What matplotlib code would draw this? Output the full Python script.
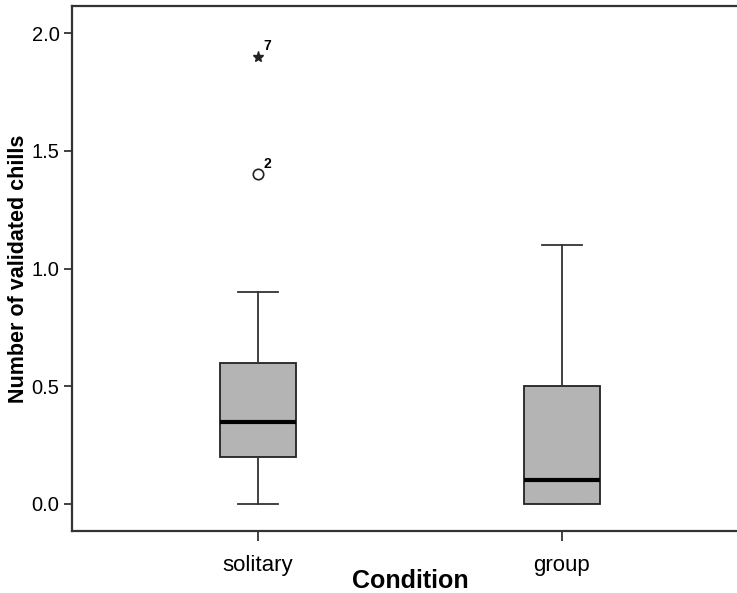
import matplotlib
matplotlib.use("Agg")
import matplotlib.pyplot as plt

# ─── data ────────────────────────────────────────────────────────────────────
conditions = ["solitary", "group"]
whisker_low  = [0.0, 0.0]
quartile_1   = [0.2, 0.0]
medians      = [0.35, 0.1]
quartile_3   = [0.6, 0.5]
whisker_high = [0.9, 1.1]
outliers     = [1.4]          # circle, case 2
extremes     = [1.9]          # star, case 7
outlier_ids  = ["2"]
extreme_ids  = ["7"]
yticks       = [0.0, 0.5, 1.0, 1.5, 2.0]

plt.rcParams["font.family"] = ["Liberation Sans", "DejaVu Sans"]

stats = []
for i, name in enumerate(conditions):
    stats.append(dict(label=name, whislo=whisker_low[i], q1=quartile_1[i],
                      med=medians[i], q3=quartile_3[i], whishi=whisker_high[i],
                      fliers=[]))

fig = plt.figure(figsize=(7.37, 5.93), dpi=100)
ax = fig.add_axes([72/737, 1 - 531/593, 676/737, 525/593])

ax.bxp(stats, positions=[0, 1], widths=0.25, capwidths=0.13,
       patch_artist=True, showfliers=False,
       boxprops=dict(facecolor="#b4b4b4", edgecolor="#222222", lw=1.3),
       medianprops=dict(color="black", lw=3),
       whiskerprops=dict(color="#333333", lw=1.3),
       capprops=dict(color="#333333", lw=1.3))

ax.plot([0]*len(outliers), outliers, ls="none", marker="o", ms=7.5,
        mfc="white", mec="#222222", mew=1.2)
ax.plot([0]*len(extremes), extremes, ls="none", marker="*", ms=8,
        color="#222222")
for v, t in zip(outliers, outlier_ids):
    ax.text(0.018, v + 0.015, t, fontsize=10, fontweight="bold",
            ha="left", va="bottom")
for v, t in zip(extremes, extreme_ids):
    ax.text(0.018, v + 0.015, t, fontsize=10, fontweight="bold",
            ha="left", va="bottom")

ax.set_xlim(-0.612, 1.612)
ax.set_ylim(-0.115, 2.115)
ax.set_xticks([0, 1])
ax.set_xticklabels(conditions, fontsize=16)
ax.set_yticks(yticks)
ax.set_yticklabels([f"{v:.1f}" for v in yticks], fontsize=14.5)
ax.tick_params(axis="x", direction="out", length=7.5, width=1.3,
               color="#333333", pad=10)
ax.tick_params(axis="y", direction="out", length=6, width=1.3,
               color="#333333", pad=3)
for s in ax.spines.values():
    s.set_linewidth(1.6)
    s.set_color("#333333")

ax.set_xlabel("Condition", fontsize=18, fontweight="bold", labelpad=-5)
ax.set_ylabel("Number of validated chills", fontsize=15.5, fontweight="bold",
              labelpad=2)

fig.savefig("out.png", dpi=100)
